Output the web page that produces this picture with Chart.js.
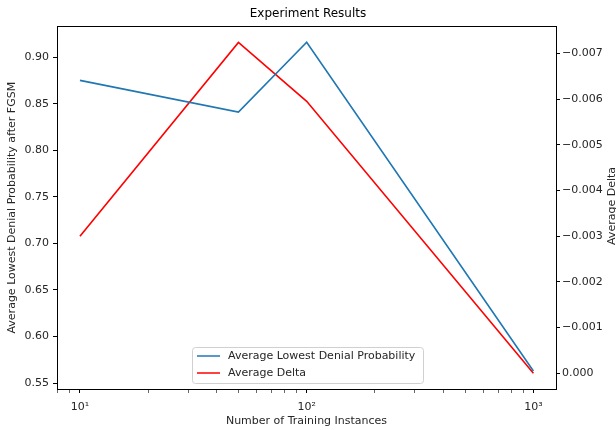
<!DOCTYPE html>
<html>
<head>
<meta charset="utf-8">
<script src="https://cdn.jsdelivr.net/npm/chart.js@4/dist/chart.umd.min.js"></script>
<style>
  html, body { margin: 0; padding: 0; background: #ffffff; }
  #wrap { width: 616px; height: 430px; position: relative; }
</style>
</head>
<body>
<div id="wrap"><canvas id="c" width="616" height="430"></canvas></div>
<script>
// ---- data ----
const trainingInstances = [10, 50, 100, 1000];
const lowestDenialProbability = [0.875, 0.841, 0.916, 0.563];
const averageDelta = [-0.0030, -0.00724, -0.00595, 0.0000];
const seriesLabels = ['Average Lowest Denial Probability', 'Average Delta'];
const leftTicks = [0.55, 0.60, 0.65, 0.70, 0.75, 0.80, 0.85, 0.90];
const rightTicks = [-0.007, -0.006, -0.005, -0.004, -0.003, -0.002, -0.001, 0.000];
const xMajorTicks = [10, 100, 1000];
const xMinorTicks = [8, 9, 20, 30, 40, 50, 60, 70, 80, 90, 200, 300, 400, 500, 600, 700, 800, 900];
const xTickLabels = {10: '10\u00B9', 100: '10\u00B2', 1000: '10\u00B3'};

const FONT = 'DejaVu Sans';
const TEXT = '#262626';

const frame = {
  id: 'frame',
  afterDraw(chart) {
    const {ctx, chartArea: a} = chart;
    ctx.save();
    ctx.strokeStyle = '#000';
    ctx.lineWidth = 1;
    ctx.strokeRect(Math.round(a.left) + 0.5, Math.round(a.top) + 0.5,
                   Math.round(a.right - a.left), Math.round(a.bottom - a.top));
    // right axis title (reads bottom-to-top like matplotlib)
    ctx.translate(612, 206);
    ctx.rotate(-Math.PI / 2);
    ctx.fillStyle = TEXT;
    ctx.font = '11px "' + FONT + '"';
    ctx.textAlign = 'center';
    ctx.textBaseline = 'middle';
    ctx.fillText('Average Delta', 0, 0);
    ctx.restore();

    // legend
    ctx.save();
    const bx = 192, by = 347, bw = 231, bh = 36;
    ctx.fillStyle = 'rgba(255,255,255,0.8)';
    ctx.strokeStyle = '#d0d0d0';
    ctx.lineWidth = 1;
    ctx.beginPath();
    if (ctx.roundRect) ctx.roundRect(bx + 0.5, by + 0.5, bw, bh, 3); else ctx.rect(bx + 0.5, by + 0.5, bw, bh);
    ctx.fill(); ctx.stroke();
    ctx.font = '11px "' + FONT + '"';
    ctx.textBaseline = 'middle';
    chart.data.datasets.forEach((ds, i) => {
      const y = by + 9 + i * 17;
      ctx.strokeStyle = ds.borderColor;
      ctx.lineWidth = 1.5;
      ctx.beginPath(); ctx.moveTo(197, y); ctx.lineTo(220, y); ctx.stroke();
      ctx.fillStyle = TEXT;
      ctx.fillText(ds.label, 228, y);
    });
    ctx.restore();
  }
};

new Chart(document.getElementById('c'), {
  type: 'line',
  data: {
    datasets: [
      {
        label: seriesLabels[0],
        data: trainingInstances.map((x, i) => ({x: x, y: lowestDenialProbability[i]})),
        borderColor: '#1f77b4', borderWidth: 1.6, pointRadius: 0, tension: 0, fill: false,
        yAxisID: 'y'
      },
      {
        label: seriesLabels[1],
        data: trainingInstances.map((x, i) => ({x: x, y: averageDelta[i]})),
        borderColor: '#ff0000', borderWidth: 1.6, pointRadius: 0, tension: 0, fill: false,
        yAxisID: 'y1'
      }
    ]
  },
  options: {
    responsive: false,
    animation: false,
    layout: { padding: 0 },
    plugins: {
      legend: { display: false },
      tooltip: { enabled: false },
      title: {
        display: true, text: 'Experiment Results', color: '#000',
        font: { family: FONT, size: 12, weight: 'normal' },
        padding: { top: 7, bottom: 5 }
      }
    },
    scales: {
      x: {
        type: 'logarithmic',
        min: 7.92, max: 1258,
        afterBuildTicks(scale) {
          const all = xMajorTicks.map(v => ({value: v, major: true}))
            .concat(xMinorTicks.map(v => ({value: v, major: false})));
          all.sort((a, b) => a.value - b.value);
          scale.ticks = all;
        },
        afterFit(scale) { scale.height = 41; },
        ticks: {
          autoSkip: false, maxRotation: 0, padding: 8, color: TEXT,
          font: { family: FONT, size: 11 },
          callback: (v) => xTickLabels[v] || ''
        },
        grid: {
          drawOnChartArea: false, drawTicks: true, tickLength: 4,
          tickColor: '#000',
          tickWidth: (c) => (c.tick && xMajorTicks.includes(c.tick.value)) ? 1 : 0.6
        },
        border: { display: true, color: '#000' },
        title: {
          display: true, text: 'Number of Training Instances', color: TEXT,
          font: { family: FONT, size: 11 }, padding: { top: 0, bottom: 2 }
        }
      },
      y: {
        position: 'left',
        min: 0.5436, max: 0.933,
        afterBuildTicks(scale) { scale.ticks = leftTicks.map(v => ({value: v})); },
        afterFit(scale) { scale.width = 57; },
        ticks: {
          padding: 4, color: TEXT, font: { family: FONT, size: 11 },
          callback: (v) => Number(v).toFixed(2)
        },
        grid: { drawOnChartArea: false, drawTicks: true, tickLength: 4, tickColor: '#000' },
        border: { display: true, color: '#000' },
        title: {
          display: true, text: 'Average Lowest Denial Probability after FGSM', color: TEXT,
          font: { family: FONT, size: 11 }, padding: { top: 6, bottom: 0 }
        }
      },
      y1: {
        position: 'right',
        reverse: true,
        min: -0.00759, max: 0.000343,
        afterBuildTicks(scale) { scale.ticks = rightTicks.map(v => ({value: v})); },
        afterFit(scale) { scale.width = 60; },
        ticks: {
          padding: 2, color: TEXT, font: { family: FONT, size: 11 },
          callback: (v) => (v < -1e-9 ? '\u2212' : '') + Math.abs(v).toFixed(3)
        },
        grid: { drawOnChartArea: false, drawTicks: true, tickLength: 4, tickColor: '#000' },
        border: { display: true, color: '#000' }
      }
    }
  },
  plugins: [frame]
});
</script>
</body>
</html>
